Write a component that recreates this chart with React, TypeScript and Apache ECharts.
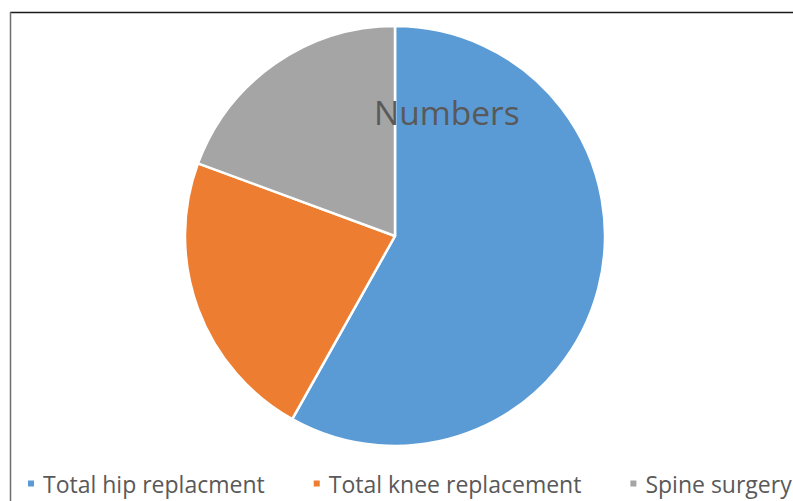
import React, { useEffect, useRef } from "react";
import * as echarts from "echarts";

const categories = ["Total hip replacment", "Total knee replacement", "Spine surgery"];
const values = [150, 58, 50];
const colors = ["#5B9BD5", "#ED7D31", "#A5A5A5"];
const titleText = "Numbers";

export default function App() {
  const ref = useRef<HTMLDivElement>(null);
  useEffect(() => {
    if (!ref.current) return;
    const chart = echarts.init(ref.current, undefined, { renderer: "svg" });
    chart.setOption({
      animation: false,
      backgroundColor: "#ffffff",
      title: {
        text: titleText,
        left: 374,
        top: 95,
        padding: 0,
        textStyle: {
          fontFamily: "Open Sans",
          fontSize: 33.5,
          fontWeight: "normal",
          color: "#595959",
        },
        z: 10,
      },
      legend: {
        left: 26,
        top: 472,
        icon: "rect",
        itemWidth: 8,
        itemHeight: 8,
        itemGap: 47,
        padding: 0,
        data: categories,
        textStyle: {
          fontFamily: "Open Sans",
          fontSize: 23,
          color: "#595959",
          padding: [0, 0, 0, 3],
        },
      },
      graphic: [
        {
          type: "line",
          shape: { x1: 10, y1: 12.5, x2: 793, y2: 12.5 },
          style: { stroke: "#1a1a1a", lineWidth: 1.5 },
          z: 20,
        },
        {
          type: "line",
          shape: { x1: 10.5, y1: 12, x2: 10.5, y2: 501 },
          style: { stroke: "#6e6e6e", lineWidth: 1.5 },
          z: 20,
        },
      ],
      series: [
        {
          type: "pie",
          center: [395, 236],
          radius: [0, 210],
          startAngle: 90,
          clockwise: true,
          label: { show: false },
          labelLine: { show: false },
          emphasis: { disabled: true },
          itemStyle: { borderColor: "#ffffff", borderWidth: 2.5 },
          data: categories.map((name, i) => ({
            name,
            value: values[i],
            itemStyle: { color: colors[i] },
          })),
        },
      ],
    });
    return () => chart.dispose();
  }, []);
  return (
    <div
      ref={ref}
      style={{ position: "fixed", left: 0, top: 0, width: 793, height: 501 }}
    />
  );
}
